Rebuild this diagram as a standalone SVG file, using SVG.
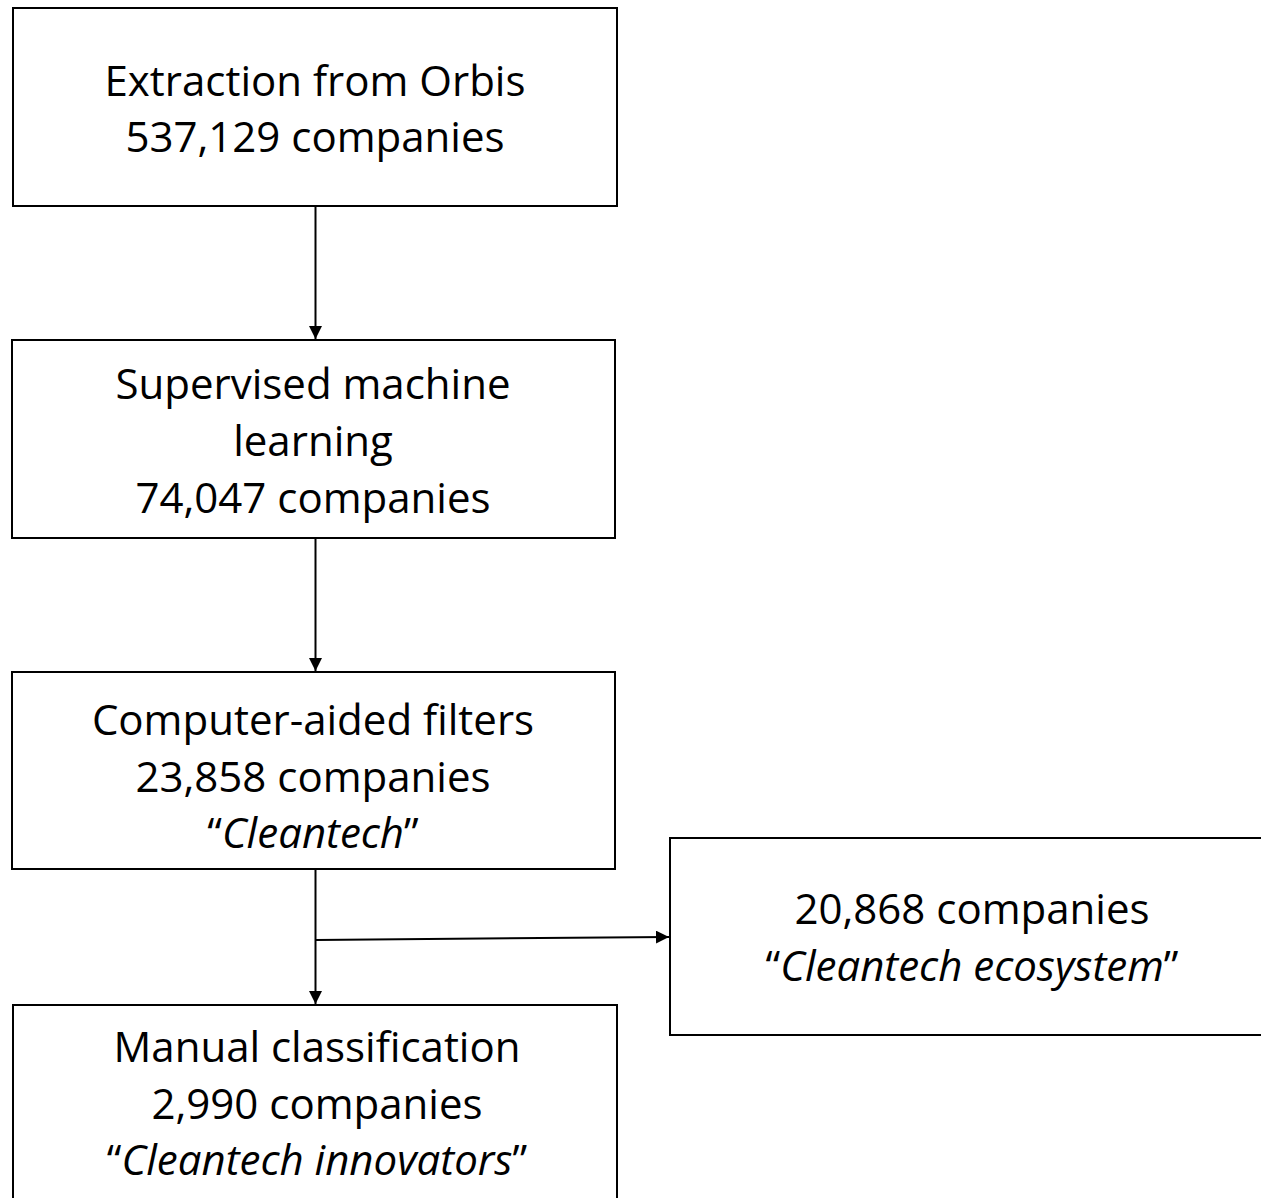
<svg xmlns="http://www.w3.org/2000/svg" width="1261" height="1198" viewBox="0 0 1261 1198">
<style>
.box{fill:#fff;stroke:#000;stroke-width:2}
.t{font-family:"Open Sans",Lato,sans-serif;font-size:42px;fill:#000;text-anchor:middle}
.i{font-style:italic}
.c{stroke:#000;stroke-width:2;fill:none}
</style>
<defs>
<marker id="ah" viewBox="0 0 10 10" refX="10" refY="5" markerWidth="13" markerHeight="13" markerUnits="userSpaceOnUse" orient="auto">
<path d="M0,0 L10,5 L0,10 z" fill="#000"/>
</marker>
</defs>
<rect width="1261" height="1198" fill="#fff"/>
<g id="connectors">
<line class="c" x1="315.5" y1="206" x2="315.5" y2="339" marker-end="url(#ah)"/>
<line class="c" x1="315.5" y1="538" x2="315.5" y2="671" marker-end="url(#ah)"/>
<line class="c" x1="315.5" y1="869" x2="315.5" y2="1004" marker-end="url(#ah)"/>
<line class="c" x1="316" y1="940" x2="669" y2="937" marker-end="url(#ah)"/>
</g>
<g id="n1">
<rect class="box" x="13" y="8" width="604" height="198"/>
<text class="t" x="315" y="96">Extraction from Orbis</text>
<text class="t" x="315" y="152">537,129 companies</text>
</g>
<g id="n2">
<rect class="box" x="12" y="340" width="603" height="198"/>
<text class="t" x="313" y="399">Supervised machine</text>
<text class="t" x="313" y="456">learning</text>
<text class="t" x="313" y="513">74,047 companies</text>
</g>
<g id="n3">
<rect class="box" x="12" y="672" width="603" height="197"/>
<text class="t" x="313" y="735">Computer-aided filters</text>
<text class="t" x="313" y="792">23,858 companies</text>
<text class="t" x="313" y="848">“<tspan class="i">Cleantech</tspan>”</text>
</g>
<g id="n4">
<rect class="box" x="670" y="838" width="600" height="197"/>
<text class="t" x="972" y="924">20,868 companies</text>
<text class="t" x="972" y="981">“<tspan class="i">Cleantech ecosystem</tspan>”</text>
</g>
<g id="n5">
<rect class="box" x="13" y="1005" width="604" height="210"/>
<text class="t" x="317" y="1062">Manual classification</text>
<text class="t" x="317" y="1119">2,990 companies</text>
<text class="t" x="317" y="1175">“<tspan class="i">Cleantech innovators</tspan>”</text>
</g>
</svg>
